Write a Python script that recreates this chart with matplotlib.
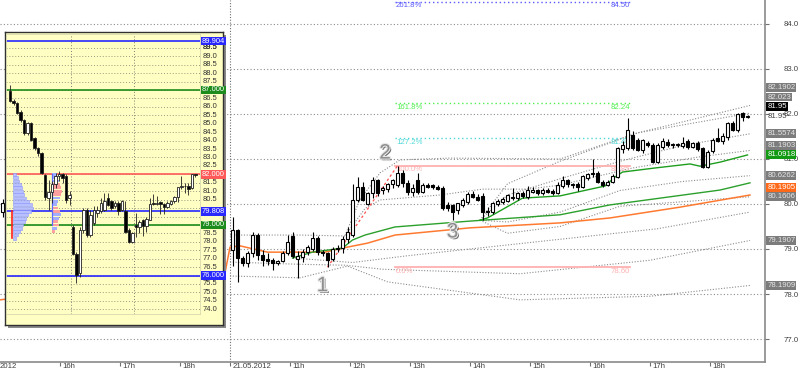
import numpy as np
import matplotlib.pyplot as plt
import matplotlib.patheffects as pe
from matplotlib.transforms import blended_transform_factory

plt.rcParams['font.family'] = ['Liberation Sans', 'DejaVu Sans']

W, H = 800, 370

# ---------------- main chart: 5 minute bars of 21.05.2012, bar 0 = 10:00
opens = [78.98, 79.42, 78.80, 78.69, 78.91, 79.31, 78.87, 78.78, 78.76, 78.69, 78.74, 78.91,
         79.29, 78.78, 78.82, 78.93, 79.00, 79.24, 78.93, 78.91, 78.78, 79.00, 79.02, 79.22,
         79.31, 80.09, 80.38, 80.00, 80.24, 80.53, 80.31, 80.33, 80.44, 80.42, 80.69, 80.47,
         80.27, 80.53, 80.27, 80.42, 80.42, 80.38, 80.36, 79.98, 79.98, 79.87, 79.98, 80.04,
         80.22, 80.16, 80.18, 79.84, 79.82, 80.00, 80.04, 80.07, 80.13, 80.13, 80.24, 80.16,
         80.27, 80.31, 80.24, 80.31, 80.29, 80.24, 80.40, 80.53, 80.42, 80.44, 80.38, 80.58,
         80.67, 80.69, 80.49, 80.42, 80.49, 80.60, 81.22, 81.24, 81.53, 81.42, 81.20, 81.36,
         81.31, 80.93, 81.27, 81.38, 81.31, 81.31, 81.29, 81.40, 81.27, 81.36, 81.24, 80.82,
         81.18, 81.47, 81.40, 81.49, 81.80, 81.64, 82.02, 81.93]
highs = [79.71, 79.45, 78.85, 78.96, 79.38, 79.35, 78.98, 78.91, 78.80, 78.76, 78.96, 79.31,
         79.38, 78.96, 79.00, 79.09, 79.38, 79.29, 78.98, 78.93, 79.04, 79.09, 79.29, 79.49,
         80.45, 80.60, 80.49, 80.27, 80.60, 80.56, 80.40, 80.47, 80.56, 80.85, 80.76, 80.53,
         80.44, 80.69, 80.47, 80.47, 80.44, 80.42, 80.40, 80.04, 80.00, 80.02, 80.13, 80.27,
         80.29, 80.22, 80.24, 79.93, 80.04, 80.11, 80.16, 80.22, 80.36, 80.27, 80.29, 80.40,
         80.38, 80.33, 80.36, 80.36, 80.33, 80.49, 80.62, 80.56, 80.47, 80.49, 80.64, 80.69,
         81.00, 80.73, 80.53, 80.53, 80.67, 81.27, 81.40, 81.91, 81.62, 81.47, 81.44, 81.40,
         81.36, 81.36, 81.47, 81.44, 81.36, 81.36, 81.49, 81.44, 81.38, 81.40, 81.26, 81.20,
         81.47, 81.69, 81.58, 81.82, 81.84, 82.02, 82.04, 81.98]
lows = [78.62, 78.27, 78.62, 78.60, 78.82, 78.76, 78.62, 78.64, 78.53, 78.64, 78.71, 78.87,
        78.80, 78.36, 78.71, 78.87, 78.96, 78.87, 78.84, 78.596, 78.73, 78.93, 78.91, 79.13,
        79.27, 80.04, 80.07, 79.98, 80.13, 80.18, 80.22, 80.27, 80.36, 80.38, 80.38, 80.20,
        80.18, 80.22, 80.24, 80.36, 80.33, 80.31, 79.87, 79.84, 79.64, 79.78, 79.93, 80.00,
        80.13, 80.07, 79.64, 79.73, 79.78, 79.96, 80.00, 80.04, 80.09, 80.09, 80.13, 80.11,
        80.24, 80.20, 80.20, 80.24, 80.20, 80.22, 80.36, 80.38, 80.36, 80.29, 80.36, 80.53,
        80.60, 80.47, 80.38, 80.40, 80.47, 80.58, 81.13, 81.20, 81.20, 81.18, 81.13, 81.27,
        80.91, 80.91, 81.22, 81.27, 81.24, 81.27, 81.24, 81.22, 81.24, 81.18, 80.80, 80.80,
        81.13, 81.38, 81.33, 81.42, 81.62, 81.60, 81.84, 81.91]
closes = [79.42, 78.80, 78.69, 78.91, 79.31, 78.87, 78.76, 78.74, 78.69, 78.74, 78.91, 79.16,
          78.84, 78.84, 78.93, 79.04, 79.24, 78.93, 78.91, 78.76, 79.00, 79.02, 79.22, 79.38,
          80.09, 80.38, 80.09, 80.24, 80.53, 80.24, 80.36, 80.44, 80.53, 80.69, 80.47, 80.27,
          80.36, 80.27, 80.42, 80.38, 80.38, 80.33, 79.91, 79.91, 79.82, 80.02, 80.09, 80.22,
          80.16, 80.09, 79.82, 79.82, 80.02, 80.07, 80.11, 80.20, 80.16, 80.24, 80.18, 80.31,
          80.31, 80.24, 80.31, 80.27, 80.24, 80.42, 80.53, 80.44, 80.44, 80.38, 80.62, 80.67,
          80.69, 80.49, 80.42, 80.49, 80.62, 81.24, 81.31, 81.64, 81.24, 81.20, 81.42, 81.31,
          80.93, 81.31, 81.40, 81.31, 81.31, 81.33, 81.36, 81.27, 81.36, 81.22, 80.82, 81.16,
          81.42, 81.40, 81.51, 81.80, 81.64, 82.00, 81.93, 81.95]

# a candle of the previous day still visible at the left border
prev_bar, prev_ohlc = -46, (79.82, 80.10, 79.70, 80.02)

# moving lines, read at a few bar positions (bar index, price)
orange_x = [-46.5, -1.5, -0.5, 1.5, 7, 18.5, 22, 27, 32.5, 47.5, 65.5, 75.5, 89.5, 103.5]
orange_y = [77.87, 78.47, 79.04, 79.07, 78.93, 78.93, 79.02, 79.13, 79.31, 79.47, 79.58,
            79.69, 79.93, 80.20]
green1_x = [12, 16, 22, 24, 26.5, 32.5, 47.5, 65.5, 75.5, 87.5, 97.5, 103.5]
green1_y = [78.80, 78.93, 79.02, 79.20, 79.31, 79.49, 79.62, 79.76, 79.98, 80.16, 80.31, 80.47]
green2_x = [49.5, 51, 54.5, 58, 65.5, 74.5, 76.5, 78, 84.5, 91.5, 93.5, 97.5, 103]
green2_y = [79.64, 79.69, 79.91, 80.13, 80.18, 80.40, 80.60, 80.71, 80.80, 80.89, 80.84,
            80.93, 81.09]

# dotted deviation bands (bar index, price)
bands = [
    # around the orange line
    ([22.5, 25.5, 29.5, 33.5, 43.5, 65.5, 81, 103.5],
     [79.30, 80.10, 80.69, 80.98, 81.02, 81.00, 81.58, 82.19]),
    ([-0.5, 13.5, 22.5, 26.5, 29.5, 41.5, 50, 59, 65.5, 80, 93.5, 103.5],
     [79.31, 79.31, 79.29, 79.90, 80.09, 80.20, 80.33, 80.33, 80.42, 80.80, 81.05, 81.19]),
    ([-0.5, 13.5, 22.5, 30, 57.5, 83.5, 103.5],
     [78.71, 78.66, 78.64, 78.55, 78.45, 78.75, 79.19]),
    ([-0.5, 13.5, 23, 31, 57.5, 83.5, 103.5],
     [78.40, 78.36, 78.62, 78.27, 77.87, 77.95, 78.19]),
    # around the lower green line
    ([12, 24, 35, 60, 85, 103.5],
     [78.80, 78.70, 78.85, 79.15, 79.45, 79.82]),
    # around the upper green line
    ([49.5, 55, 65.5, 81, 103.5],
     [79.64, 80.45, 80.95, 81.58, 82.02]),
    ([49.5, 55, 65.5, 77.5, 90, 103.5],
     [79.64, 80.20, 80.56, 80.95, 81.30, 81.56]),
    ([49.5, 55, 65.5, 77.5, 90, 103.5],
     [79.64, 79.60, 79.82, 80.30, 80.50, 80.63]),
    ([49.5, 55, 65.5, 77.5, 90, 103.5],
     [79.64, 79.35, 79.50, 79.95, 80.05, 80.16]),
]

# fibonacci swing: bar of point 1 (low) and bar of point 2 (high)
swing_low_bar, swing_high_bar, swing_label_bar = 19, 33, 44
fib_ratios = [0.0, 1.0, 1.272, 1.618, 2.618]
fib_names = ['0.0%', '100.0%', '127.2%', '161.8%', '261.8%']

hour_labels = ['16h', '17h', '18h', '21.05.2012', '11h', '12h', '13h', '14h', '15h', '16h',
               '17h', '18h']
hour_bars = [-34.5, -22.5, -10.5, -0.5, 11.5, 23.5, 35.5, 47.5, 59.5, 71.5, 83.5, 95.5]

last_price = 81.95
line_labels = [82.1902, 82.023, 81.95, 81.5574, 81.1903, 81.0918, 80.6262, 80.1905, 80.1606,
               79.1907, 78.1909]
line_label_kind = ['band', 'band', 'last', 'band', 'band', 'green', 'band', 'orange', 'band',
                   'band', 'band']

# ---------------- inset: 30 minute bars, three sessions
ins_open = [86.96, 86.37, 86.21, 85.71, 85.22, 84.43, 85.02, 84.14, 83.54, 83.25, 81.96, 80.58,
            80.97, 81.40, 81.90, 82.00, 81.90, 80.60,
            78.90, 77.30, 76.13, 78.70, 79.90, 78.40, 79.10, 79.70, 79.80, 79.90, 80.60, 80.40,
            80.10, 80.30, 79.90, 79.80, 78.70, 78.00]
ins_high = [87.30, 86.45, 86.30, 85.80, 85.30, 85.10, 85.10, 84.20, 83.60, 83.30, 82.00, 81.67,
            81.60, 82.10, 82.20, 82.10, 82.00, 81.00,
            79.00, 77.40, 78.90, 80.00, 80.00, 79.90, 80.10, 80.10, 80.60, 80.90, 80.90, 80.50,
            80.40, 80.40, 80.50, 80.40, 78.80, 78.60]
ins_low = [86.30, 86.10, 85.55, 85.10, 84.35, 84.35, 83.95, 83.45, 83.10, 82.00, 80.50, 79.89,
           80.30, 81.20, 81.60, 81.50, 80.30, 80.20,
           77.20, 75.54, 75.90, 78.50, 78.30, 78.30, 79.00, 79.50, 79.70, 79.80, 80.10, 79.90,
           80.00, 79.60, 79.80, 78.50, 77.90, 77.90]
ins_close = [86.37, 86.21, 85.62, 85.22, 84.43, 85.02, 84.04, 83.54, 83.25, 82.06, 80.68, 80.97,
             81.40, 81.90, 82.00, 81.80, 80.50, 80.80,
             77.30, 76.03, 78.70, 79.90, 78.40, 79.60, 79.90, 79.90, 80.30, 80.40, 80.20, 80.00,
             80.30, 79.80, 80.40, 78.60, 78.00, 78.50]

ins_levels = [89.904, 87.000, 82.000, 79.808, 79.000, 76.000]
ins_level_kind = ['blue', 'green', 'red', 'blue', 'green', 'blue']

# volume profiles in the inset
vp1_price = [82.0, 81.8, 81.6, 81.4, 81.2, 81.0, 80.8, 80.6, 80.4, 80.2, 80.0, 79.8, 79.6, 79.4,
             79.2, 79.0, 78.8, 78.6, 78.4, 78.2]
vp1_vol = [0.15, 0.25, 0.30, 0.40, 0.45, 0.50, 0.55, 0.65, 0.80, 0.95, 1.00, 0.90, 0.75, 0.65,
           0.60, 0.50, 0.45, 0.35, 0.25, 0.15]
vp2_price = [82.0, 81.8, 81.6, 81.4, 81.2, 81.0, 80.8, 80.6, 80.4, 80.2, 80.0, 79.8, 79.6, 79.4,
             79.2, 79.0, 78.8, 78.6]
vp2_vol = [0.5, 0.6, 0.7, 0.8, 0.9, 1.0, 0.9, 0.8, 0.6, 0.5, 0.6, 0.8, 0.9, 0.7, 0.6, 0.7, 0.5,
           0.3]
vp2_side = ['b', 'b', 'b', 'r', 'r', 'r', 'r', 'b', 'b', 'b', 'r', 'r', 'b', 'b', 'r', 'r', 'b',
            'r']

GRID = '#8c8c8c'
DOT = (0, (1, 2))
FS = 5.6


def draw_candles(ax, x, o, h, l, c, width, lw, edge='black', z=3):
    x = np.asarray(x, float)
    o, h, l, c = (np.asarray(v, float) for v in (o, h, l, c))
    ax.vlines(x, l, h, color=edge, lw=lw, zorder=z)
    up = c >= o
    body = np.maximum(np.abs(c - o), 0.015)
    ax.bar(x, body, width, bottom=np.minimum(o, c), color=np.where(up, 'white', 'black'),
           edgecolor=edge, linewidth=lw, zorder=z + 0.1)


fig = plt.figure(figsize=(W / 100, H / 100), dpi=100)


def px_axes(x0, y0, x1, y1, **kw):
    return fig.add_axes([x0 / W, 1 - y1 / H, (x1 - x0) / W, (y1 - y0) / H], **kw)


ax = px_axes(0, 0, 765, 362)
ax.set_xlim(-46.5, 106.5)
ax.set_ylim(76.489, 84.533)
for s in ('top', 'left'):
    ax.spines[s].set_visible(False)
for s in ('right', 'bottom'):
    ax.spines[s].set_color('#8a8a8a')
    ax.spines[s].set_linewidth(1.2)

# price axis
ax.yaxis.tick_right()
ax.set_yticks(range(77, 85))
ax.set_yticklabels([f'{v:.1f}' for v in range(77, 85)])
ax.tick_params(axis='y', direction='out', length=3, color='#707070', labelsize=FS,
               labelcolor='#404040', pad=10.5)
# time axis
ax.set_xticks(hour_bars)
ax.set_xticklabels([])
ax.tick_params(axis='x', direction='out', length=3, color='#707070')
xt = blended_transform_factory(ax.transData, ax.transAxes)
for b, lab in zip(hour_bars, hour_labels):
    ax.text(b + 0.5, -0.004, lab, transform=xt, fontsize=FS, color='#404040', va='top',
            ha='left', clip_on=False)
ax.text(-46.5, -0.004, '2012', transform=xt, fontsize=FS, color='#404040', va='top',
        ha='left', clip_on=False)

# grid
for v in range(77, 85):
    ax.axhline(v, color=GRID, lw=0.8, ls=DOT, zorder=1)
ax.axvline(-0.5, color='#707070', lw=0.8, ls=(0, (1, 1.5)), zorder=1)

# bands and moving lines
for bx, by in bands:
    ax.plot(bx, by, color='#8c8c8c', lw=0.8, ls=(0, (1, 1.5)), zorder=2)
ax.plot(orange_x, orange_y, color='#ff7a30', lw=1.1, zorder=2.5)
ax.plot(green1_x, green1_y, color='#2ca02c', lw=1.0, zorder=2.5)
ax.plot(green2_x, green2_y, color='#1e9e1e', lw=1.0, zorder=2.5)

# fibonacci levels
lo = lows[swing_low_bar]
hi = highs[swing_high_bar]
fib_colors = ['#ffb0b0', '#ffb0b0', '#50d8d8', '#50f050', '#5a5aff']
fib_styles = ['-', '-', DOT, DOT, DOT]
x0f, x1f = swing_high_bar - 0.5, 79.5
for r, name, col, st in zip(fib_ratios, fib_names, fib_colors, fib_styles):
    lv = lo + r * (hi - lo)
    ax.plot([x0f, x1f], [lv, lv], color=col, lw=1.3 if st == '-' else 1.0, ls=st, zorder=2.2)
    ax.text(x0f + 0.2, lv - 0.01, name, color=col, fontsize=FS, va='top', ha='left',
            zorder=2.3)
    ax.text(x1f, lv - 0.01, f'{lv:.2f}', color=col, fontsize=FS, va='top', ha='right',
            zorder=2.3)
ax.plot([swing_low_bar, swing_high_bar], [lo, hi], color='#ff5050', lw=0.9,
        ls=(0, (2, 2)), zorder=2.4)

# candles
draw_candles(ax, np.arange(len(opens)), opens, highs, lows, closes, 0.72, 0.8)
draw_candles(ax, [prev_bar], *[[v] for v in prev_ohlc], 0.72, 0.8)

# swing numbers
num_fx = [pe.withSimplePatchShadow(offset=(1.2, -1.2), shadow_rgbFace='#303030', alpha=0.7),
          pe.withStroke(linewidth=1.6, foreground='#e8e8e8')]
for txt, b, y, va in (('1', swing_low_bar - 1, lows[swing_low_bar] - 0.2, 'top'),
                      ('2', swing_high_bar - 2.5, highs[swing_high_bar] + 0.07, 'bottom'),
                      ('3', swing_label_bar, lows[swing_label_bar] - 0.05, 'top')):
    ax.text(b, y, txt, fontsize=15, color='#8e8e8e', ha='center', va=va, zorder=6,
            path_effects=num_fx)

# value boxes on the price axis
yt = blended_transform_factory(ax.transAxes, ax.transData)
ax.text(1.003, last_price, f'{last_price:.2f}', transform=yt, fontsize=FS, color='#404040',
        va='center', ha='left', clip_on=False)
gap = 9.6 / 45
order = np.argsort(line_labels)
placed = [last_price]
pos = {}
for k in order:
    v = line_labels[k]
    p = v
    for q in placed:
        if abs(p - q) < gap and p <= q + gap:
            p = min(p, q - gap) if p < q else max(p, q + gap)
    pos[k] = p
    placed.append(p)
box_fc = {'band': '#7c7c7c', 'last': '#000000', 'green': '#129a12', 'orange': '#ff6a1a'}
box_tc = {'band': '#e6e6e6', 'last': 'white', 'green': 'white', 'orange': 'white'}
for k, v in enumerate(line_labels):
    kind = line_label_kind[k]
    txt = f'{v:g}' if kind != 'last' else f'{v:.2f}'
    ax.text(1.003, pos[k], txt, transform=yt, fontsize=FS, color=box_tc[kind], va='center',
            ha='left', clip_on=False, zorder=7,
            bbox=dict(boxstyle='square,pad=0.12', fc=box_fc[kind], ec='none'))

# ---------------- inset
shadow = px_axes(8, 35, 226, 328, zorder=4)
shadow.set_facecolor('#8a8a8a')
shadow.set_xticks([])
shadow.set_yticks([])
for s in shadow.spines.values():
    s.set_visible(False)
box = px_axes(5, 32, 223, 325, zorder=5)
box.set_facecolor('#ffffc4')
box.set_xticks([])
box.set_yticks([])
for s in box.spines.values():
    s.set_color('#303030')
    s.set_linewidth(1.0)

ai = px_axes(6, 34, 200, 314, zorder=6)
ai.patch.set_alpha(0)
ai.set_xlim(-1.15, 54.3)
ai.set_ylim(73.72, 90.32)
ai.set_xticks([])
ai.set_yticks([])
for s in ai.spines.values():
    s.set_color('#d8d8b0')
    s.set_linewidth(0.6)

lv_half = np.arange(74.0, 90.0, 0.5)
for v in lv_half:
    ai.axhline(v, color='#9a9a80', lw=0.7, ls=(0, (1, 2)), zorder=1)
ai.axvline(17.5, color='#808070', lw=0.7, ls=(0, (1, 2)), zorder=1)
ai.axvline(35.5, color='#808070', lw=0.7, ls=(0, (1, 2)), zorder=1)

lvl_col = {'blue': '#2828ff', 'green': '#1c8c1c', 'red': '#ff5a5a'}
for v, kind in zip(ins_levels, ins_level_kind):
    ai.axhline(v, color=lvl_col[kind], lw=1.2, zorder=2)

# volume profiles
step = 0.2
vp1 = np.asarray(vp1_vol)
ai.barh(vp1_price, vp1 * 5.6, height=step * 0.8, left=0.9, color='#b8c0ff', edgecolor='#8a96ff',
        linewidth=0.4, zorder=2.5)
vp2 = np.asarray(vp2_vol)
ai.barh(vp2_price, vp2 * 2.8, height=step * 0.8, left=12.0,
        color=['#ffa0a0' if s == 'r' else '#a4aeff' for s in vp2_side], linewidth=0,
        zorder=2.5)
ai.plot([12.0, 12.0], [82.0, 79.0], color='#5a6aff', lw=0.9, zorder=2.6)
ai.plot([0.5, 0.5], [79.8, 78.2], color='#ff2020', lw=1.2, zorder=2.6)

draw_candles(ai, np.arange(len(ins_open)), ins_open, ins_high, ins_low, ins_close, 0.62, 0.6,
             edge='#202020')
# today's 30 minute bars built from the 5 minute bars
n = len(opens)
grp = [slice(s, min(s + 6, n)) for s in range(0, n, 6)]
d_o = [opens[g][0] for g in grp]
d_h = [max(highs[g]) for g in grp]
d_l = [min(lows[g]) for g in grp]
d_c = [closes[g][-1] for g in grp]
draw_candles(ai, 36 + np.arange(len(grp)), d_o, d_h, d_l, d_c, 0.62, 0.6, edge='#202020')

it = blended_transform_factory(ai.transAxes, ai.transData)
for v in lv_half.tolist() + [89.5]:
    if min(abs(v - q) for q in ins_levels) < 0.35:
        continue
    ai.text(1.015, v, f'{v:.1f}', transform=it, fontsize=5.4, color='#303030', va='center',
            ha='left', clip_on=False)
for v, kind in zip(ins_levels, ins_level_kind):
    ai.text(1.01, v, f'{v:.3f}', transform=it, fontsize=5.4, color='white', va='center',
            ha='left', clip_on=False, zorder=8,
            bbox=dict(boxstyle='square,pad=0.1', fc=lvl_col[kind], ec='none'))

fig.savefig('out.png', dpi=100)
